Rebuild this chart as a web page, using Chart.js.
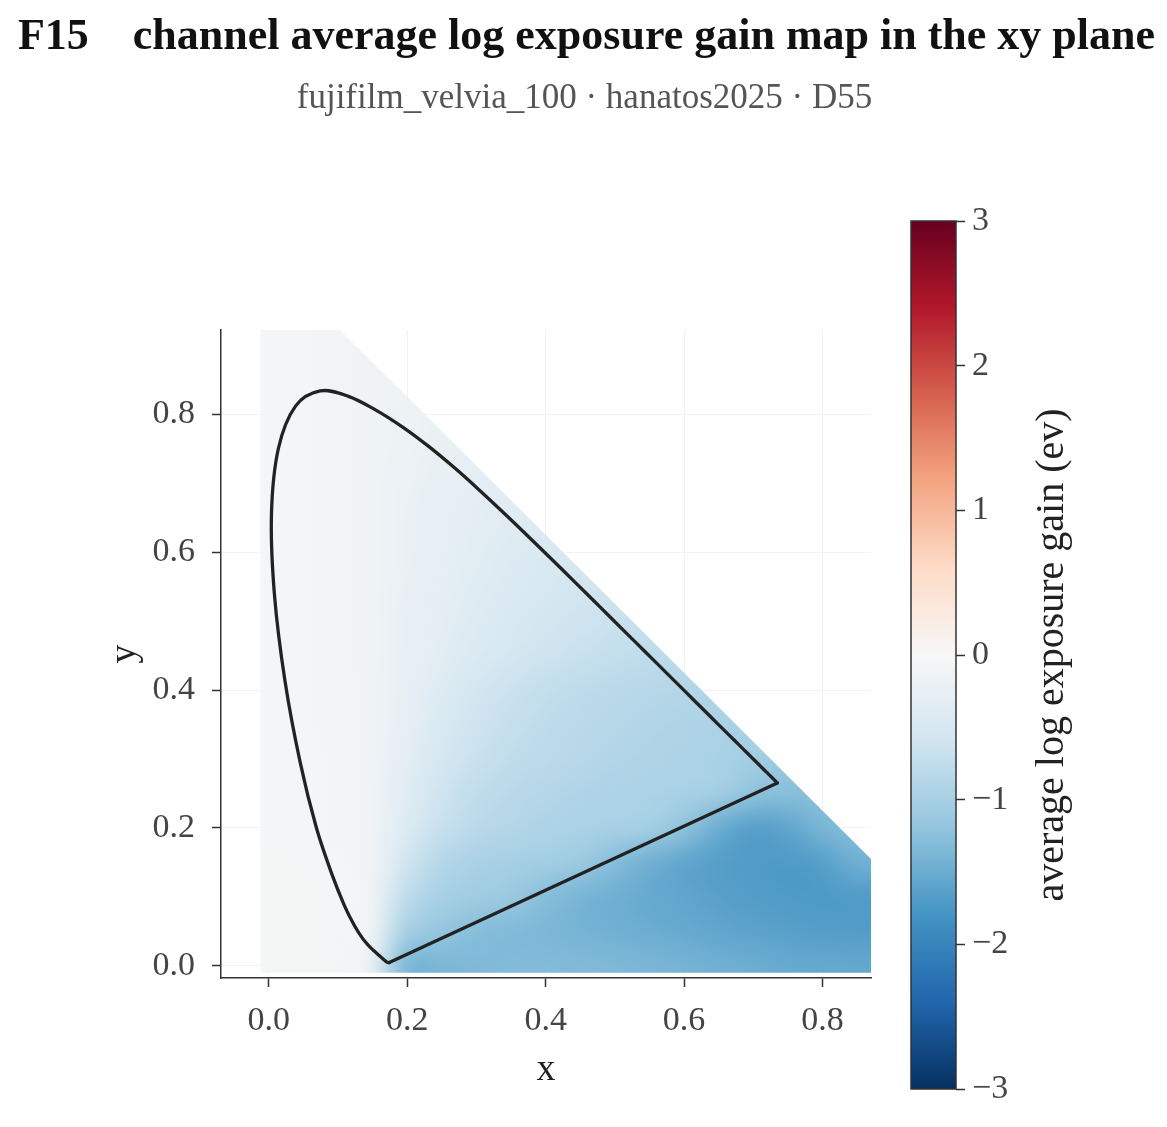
<!DOCTYPE html>
<html>
<head>
<meta charset="utf-8">
<script src="https://cdn.jsdelivr.net/npm/chart.js@4.4.1/dist/chart.umd.min.js"></script>
<style>
  html, body { margin: 0; padding: 0; background: #fff; }
  #page { position: relative; width: 1167px; height: 1127px; overflow: hidden; font-family: "Liberation Serif", serif; }
  .title { position: absolute; left: 0; width: 1167px; text-align: center; white-space: pre; line-height: 1; }
  #main { position: absolute; left: 0; top: 0; }
  #cbar { position: absolute; left: 880px; top: 170px; }
</style>
</head>
<body>
<div id="page">
  <canvas id="main" width="1167" height="1127"></canvas>
  <canvas id="cbar" width="287" height="957"></canvas>
  <div class="title" style="top:13px;left:3px;font-size:44px;font-weight:bold;color:#111">F15    channel average log exposure gain map in the xy plane</div>
  <div class="title" style="top:79px;left:1px;font-size:35px;color:#555">fujifilm_velvia_100 · hanatos2025 · D55</div>
</div>
<script>
const FONT = '"Liberation Serif", serif';

// sample grid of the gain map (cell centres), rows listed top to bottom
const gridX = [0.00, 0.05, 0.10, 0.15, 0.20, 0.25, 0.30, 0.35, 0.40, 0.45, 0.50, 0.55, 0.60, 0.65, 0.70, 0.75, 0.80, 0.85];
const gridY = [0.90, 0.85, 0.80, 0.75, 0.70, 0.65, 0.60, 0.55, 0.50, 0.45, 0.40, 0.35, 0.30, 0.25, 0.20, 0.15, 0.10, 0.05, 0.00];

// average log exposure gain (ev), null = outside the sampled region
const _ = null;
const gain = [
  [-0.06, -0.07, -0.09, -0.12, _, _, _, _, _, _, _, _, _, _, _, _, _, _],
  [-0.06, -0.07, -0.09, -0.12, -0.15, _, _, _, _, _, _, _, _, _, _, _, _, _],
  [-0.06, -0.07, -0.09, -0.12, -0.16, -0.20, _, _, _, _, _, _, _, _, _, _, _, _],
  [-0.06, -0.07, -0.09, -0.13, -0.18, -0.22, -0.26, _, _, _, _, _, _, _, _, _, _, _],
  [-0.06, -0.07, -0.09, -0.13, -0.19, -0.24, -0.29, -0.33, _, _, _, _, _, _, _, _, _, _],
  [-0.06, -0.07, -0.09, -0.13, -0.20, -0.26, -0.32, -0.37, -0.42, _, _, _, _, _, _, _, _, _],
  [-0.06, -0.07, -0.09, -0.13, -0.21, -0.28, -0.35, -0.41, -0.47, -0.52, _, _, _, _, _, _, _, _],
  [-0.06, -0.07, -0.09, -0.13, -0.22, -0.30, -0.38, -0.45, -0.51, -0.56, -0.61, _, _, _, _, _, _, _],
  [-0.06, -0.07, -0.09, -0.13, -0.23, -0.32, -0.41, -0.49, -0.56, -0.62, -0.67, -0.71, _, _, _, _, _, _],
  [-0.06, -0.07, -0.09, -0.13, -0.24, -0.35, -0.46, -0.55, -0.62, -0.68, -0.73, -0.77, -0.81, _, _, _, _, _],
  [-0.06, -0.07, -0.09, -0.13, -0.26, -0.41, -0.56, -0.66, -0.73, -0.79, -0.83, -0.86, -0.89, -0.92, _, _, _, _],
  [-0.06, -0.07, -0.09, -0.13, -0.28, -0.47, -0.62, -0.71, -0.78, -0.83, -0.87, -0.90, -0.92, -0.95, -0.99, _, _, _],
  [-0.06, -0.06, -0.08, -0.12, -0.32, -0.54, -0.68, -0.76, -0.82, -0.86, -0.90, -0.92, -0.94, -0.98, -1.04, -1.12, _, _],
  [-0.06, -0.06, -0.08, -0.12, -0.37, -0.62, -0.76, -0.84, -0.88, -0.91, -0.94, -0.96, -0.98, -1.03, -1.22, -1.28, -1.25, _],
  [-0.06, -0.06, -0.08, -0.12, -0.44, -0.70, -0.83, -0.89, -0.93, -0.96, -0.99, -1.02, -1.22, -1.50, -1.66, -1.58, -1.38, -1.30],
  [-0.05, -0.06, -0.07, -0.12, -0.60, -0.88, -0.97, -1.01, -1.04, -1.10, -1.30, -1.46, -1.58, -1.66, -1.70, -1.72, -1.66, -1.45],
  [-0.05, -0.05, -0.06, -0.12, -0.78, -1.00, -1.06, -1.12, -1.28, -1.40, -1.47, -1.53, -1.58, -1.63, -1.68, -1.71, -1.72, -1.70],
  [-0.05, -0.05, -0.06, -0.15, -1.02, -1.18, -1.28, -1.33, -1.37, -1.41, -1.45, -1.49, -1.53, -1.57, -1.61, -1.64, -1.67, -1.68],
  [-0.05, -0.05, -0.06, -0.25, -1.38, -1.38, -1.34, -1.32, -1.32, -1.33, -1.35, -1.38, -1.41, -1.45, -1.48, -1.52, -1.54, -1.55]
];

// CIE 1931 spectral locus, 380 nm to 700 nm in 5 nm steps
const locusX = [0.1741, 0.1740, 0.1738, 0.1736, 0.1733, 0.1730, 0.1726, 0.1721, 0.1714, 0.1703, 0.1689, 0.1669, 0.1644, 0.1611, 0.1566, 0.1510, 0.1440, 0.1355, 0.1241, 0.1096, 0.0913, 0.0687, 0.0454, 0.0235, 0.0082, 0.0039, 0.0139, 0.0389, 0.0743, 0.1142, 0.1547, 0.1929, 0.2296, 0.2658, 0.3016, 0.3373, 0.3731, 0.4087, 0.4441, 0.4788, 0.5125, 0.5448, 0.5752, 0.6029, 0.6270, 0.6482, 0.6658, 0.6801, 0.6915, 0.7006, 0.7079, 0.7140, 0.7190, 0.7230, 0.7260, 0.7283, 0.7300, 0.7311, 0.7320, 0.7327, 0.7334, 0.7340, 0.7344, 0.7346, 0.7347];
const locusY = [0.0050, 0.0050, 0.0049, 0.0049, 0.0048, 0.0048, 0.0048, 0.0048, 0.0051, 0.0058, 0.0069, 0.0086, 0.0109, 0.0138, 0.0177, 0.0227, 0.0297, 0.0399, 0.0578, 0.0868, 0.1327, 0.2007, 0.2950, 0.4127, 0.5384, 0.6548, 0.7502, 0.8120, 0.8338, 0.8262, 0.8059, 0.7816, 0.7543, 0.7243, 0.6923, 0.6589, 0.6245, 0.5896, 0.5547, 0.5202, 0.4866, 0.4544, 0.4242, 0.3965, 0.3725, 0.3514, 0.3340, 0.3197, 0.3083, 0.2993, 0.2920, 0.2859, 0.2809, 0.2770, 0.2740, 0.2717, 0.2700, 0.2689, 0.2680, 0.2673, 0.2666, 0.2660, 0.2656, 0.2654, 0.2653];

const xTicks = [0.0, 0.2, 0.4, 0.6, 0.8];
const yTicks = [0.0, 0.2, 0.4, 0.6, 0.8];
const cbarTicks = [-3, -2, -1, 0, 1, 2, 3];

// RdBu_r colour map over -3..3 ev
const cmapStops = [-3, -2.4, -1.8, -1.2, -0.6, 0, 0.6, 1.2, 1.8, 2.4, 3];
const cmapColors = ['#053061', '#2166ac', '#4393c3', '#92c5de', '#d1e5f0', '#f7f7f7', '#fddbc7', '#f4a582', '#d6604d', '#b2182b', '#67001f'];

function hexToRgb(h) {
  const n = parseInt(h.slice(1), 16);
  return [(n >> 16) & 255, (n >> 8) & 255, n & 255];
}

function gainColor(v) {
  const last = cmapStops.length - 1;
  if (v <= cmapStops[0]) return hexToRgb(cmapColors[0]);
  if (v >= cmapStops[last]) return hexToRgb(cmapColors[last]);
  let i = 0;
  while (v > cmapStops[i + 1]) i++;
  const t = (v - cmapStops[i]) / (cmapStops[i + 1] - cmapStops[i]);
  const a = hexToRgb(cmapColors[i]), b = hexToRgb(cmapColors[i + 1]);
  return a.map((c, k) => Math.round(c + (b[k] - c) * t));
}

// draws the gain grid as a smoothed image placed through the x/y scales
const gainMapPlugin = {
  id: 'gainMap',
  beforeDatasetsDraw(chart) {
    const { ctx, chartArea: a, scales: { x, y } } = chart;
    const cols = gridX.length, rows = gridY.length;
    const off = document.createElement('canvas');
    off.width = cols;
    off.height = rows;
    const octx = off.getContext('2d');
    const img = octx.createImageData(cols, rows);
    for (let r = 0; r < rows; r++) {
      let prev = null;
      for (let c = 0; c < cols; c++) {
        let v = gain[r][c];
        if (v === null) v = prev; else prev = v;
        const rgb = gainColor(v);
        const k = (r * cols + c) * 4;
        img.data[k] = rgb[0];
        img.data[k + 1] = rgb[1];
        img.data[k + 2] = rgb[2];
        img.data[k + 3] = 255;
      }
    }
    octx.putImageData(img, 0, 0);

    const hx = (gridX[1] - gridX[0]) / 2, hy = (gridY[0] - gridY[1]) / 2;
    const left = x.getPixelForValue(gridX[0] - hx);
    const right = x.getPixelForValue(gridX[cols - 1] + hx);
    const top = y.getPixelForValue(gridY[0] + hy);
    const bottom = y.getPixelForValue(gridY[rows - 1] - hy);

    // sampled region: x + y <= 1.025
    const xMin = -0.012, yMin = -0.01, sum = 1.025;
    ctx.save();
    ctx.beginPath();
    ctx.rect(a.left, a.top, a.right - a.left, a.bottom - a.top);
    ctx.clip();
    ctx.beginPath();
    ctx.moveTo(x.getPixelForValue(xMin), y.getPixelForValue(yMin));
    ctx.lineTo(x.getPixelForValue(x.max), y.getPixelForValue(yMin));
    ctx.lineTo(x.getPixelForValue(x.max), y.getPixelForValue(sum - x.max));
    ctx.lineTo(x.getPixelForValue(sum - y.max), y.getPixelForValue(y.max));
    ctx.lineTo(x.getPixelForValue(xMin), y.getPixelForValue(y.max));
    ctx.closePath();
    ctx.clip();
    ctx.imageSmoothingEnabled = true;
    ctx.imageSmoothingQuality = 'high';
    ctx.drawImage(off, left, top, right - left, bottom - top);
    ctx.restore();
  }
};

const locusPoints = locusX.map((v, i) => ({ x: v, y: locusY[i] }));
const purplePoints = [locusPoints[locusPoints.length - 1], locusPoints[0]];

const tickFont = { family: FONT, size: 34 };
const axisTitleFont = { family: FONT, size: 38 };

new Chart(document.getElementById('main'), {
  type: 'scatter',
  data: {
    datasets: [{
      data: locusPoints,
      showLine: true,
      borderColor: '#222',
      borderWidth: 3.3,
      borderCapStyle: 'round',
      pointRadius: 0,
      fill: false,
      tension: 0.35
    }, {
      data: purplePoints,
      showLine: true,
      borderColor: '#222',
      borderWidth: 3.3,
      borderCapStyle: 'round',
      pointRadius: 0,
      fill: false,
      tension: 0
    }]
  },
  options: {
    responsive: false,
    animation: false,
    layout: { padding: { left: 102, right: 296, top: 330, bottom: 34 } },
    plugins: { legend: { display: false }, tooltip: { enabled: false } },
    scales: {
      x: {
        type: 'linear',
        min: -0.069,
        max: 0.87,
        afterBuildTicks: (scale) => { scale.ticks = xTicks.map(v => ({ value: v })); },
        afterFit: (scale) => { scale.height = 115; },
        ticks: { font: tickFont, color: '#444', padding: 14, callback: (v) => v.toFixed(1) },
        grid: { color: '#f3f3f3', lineWidth: 1, tickLength: 9, tickColor: '#333', tickWidth: 1.5 },
        border: { color: '#333', width: 1.5 },
        title: { display: true, text: 'x', font: axisTitleFont, color: '#222', padding: 0 }
      },
      y: {
        type: 'linear',
        min: -0.0175,
        max: 0.922,
        afterBuildTicks: (scale) => { scale.ticks = yTicks.map(v => ({ value: v })); },
        afterFit: (scale) => { scale.width = 119; },
        ticks: { font: tickFont, color: '#444', padding: 17, callback: (v) => v.toFixed(1) },
        grid: { color: '#f3f3f3', lineWidth: 1, tickLength: 9, tickColor: '#333', tickWidth: 1.5 },
        border: { color: '#333', width: 1.5 },
        title: { display: true, text: 'y', font: axisTitleFont, color: '#222', padding: 0 }
      }
    }
  },
  plugins: [gainMapPlugin]
});

// colour bar: gradient from the colour map stops, placed through its own y scale
const colorbarPlugin = {
  id: 'colorbar',
  beforeDatasetsDraw(chart) {
    const { ctx, chartArea: a, scales: { y } } = chart;
    const lo = cmapStops[0], hi = cmapStops[cmapStops.length - 1];
    const y0 = y.getPixelForValue(lo), y1 = y.getPixelForValue(hi);
    const g = ctx.createLinearGradient(0, y0, 0, y1);
    cmapStops.forEach((s, i) => g.addColorStop((s - lo) / (hi - lo), cmapColors[i]));
    ctx.save();
    ctx.fillStyle = g;
    ctx.fillRect(a.left, y1, a.right - a.left, y0 - y1);
    ctx.strokeStyle = '#333';
    ctx.lineWidth = 1.5;
    ctx.strokeRect(a.left, y1, a.right - a.left, y0 - y1);
    ctx.restore();
  },
  afterDraw(chart) {
    const { ctx, chartArea: a, scales: { y } } = chart;
    const mid = (y.getPixelForValue(cbarTicks[0]) + y.getPixelForValue(cbarTicks[cbarTicks.length - 1])) / 2;
    ctx.save();
    ctx.translate(a.right + 96, mid);
    ctx.rotate(-Math.PI / 2);
    ctx.font = '40px ' + FONT;
    ctx.fillStyle = '#222';
    ctx.textAlign = 'center';
    ctx.textBaseline = 'middle';
    ctx.fillText('average log exposure gain (ev)', 0, 0);
    ctx.restore();
  }
};

new Chart(document.getElementById('cbar'), {
  type: 'scatter',
  data: { datasets: [] },
  options: {
    responsive: false,
    animation: false,
    layout: { padding: { left: 31, right: 101, top: 51, bottom: 38 } },
    plugins: { legend: { display: false }, tooltip: { enabled: false } },
    scales: {
      x: { type: 'linear', display: false, min: 0, max: 1 },
      y: {
        type: 'linear',
        position: 'right',
        min: cbarTicks[0],
        max: cbarTicks[cbarTicks.length - 1],
        afterBuildTicks: (scale) => { scale.ticks = cbarTicks.map(v => ({ value: v })); },
        afterFit: (scale) => { scale.width = 110; },
        ticks: {
          font: tickFont,
          color: '#444',
          padding: 7,
          callback: (v) => (v < 0 ? '\u2212' + Math.abs(v) : String(v))
        },
        grid: { drawOnChartArea: false, tickLength: 9, tickColor: '#333', tickWidth: 1.5, color: '#333' },
        border: { display: false }
      }
    }
  },
  plugins: [colorbarPlugin]
});
</script>
</body>
</html>
